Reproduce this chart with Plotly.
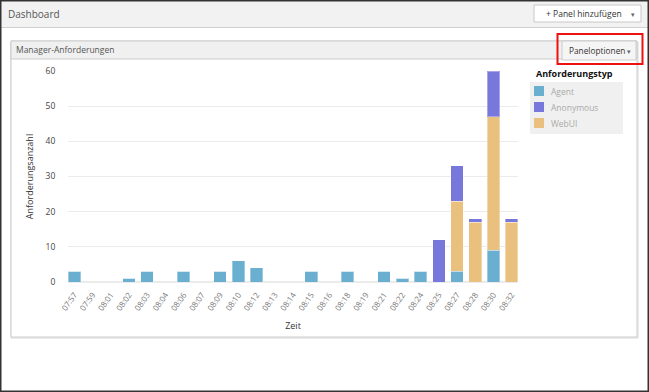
import plotly.graph_objects as go

# ---- data ----
zeit = ["07:57", "07:59", "08:01", "08:02", "08:03", "08:04", "08:06", "08:07", "08:09",
        "08:10", "08:12", "08:13", "08:14", "08:15", "08:16", "08:18", "08:19", "08:21",
        "08:22", "08:24", "08:25", "08:27", "08:28", "08:30", "08:32"]
agent = [3, 0, 0, 1, 3, 0, 3, 0, 3, 6, 4, 0, 0, 3, 0, 3, 0, 3, 1, 3, 0, 3, 0, 9, 0]
webui = [0, 0, 0, 0, 0, 0, 0, 0, 0, 0, 0, 0, 0, 0, 0, 0, 0, 0, 0, 0, 0, 20, 17, 38, 17]
anonymous = [0, 0, 0, 0, 0, 0, 0, 0, 0, 0, 0, 0, 0, 0, 0, 0, 0, 0, 0, 0, 12, 10, 1, 13, 1]
y_ticks = [0, 10, 20, 30, 40, 50, 60]
legend_names = ["Agent", "Anonymous", "WebUI"]
colors = {"Agent": "#6aaed0", "Anonymous": "#7777dc", "WebUI": "#e9c07e"}

FONT = "Open Sans, Noto Sans, sans-serif"
W, H = 649, 392
L, R, T, B = 68, 518, 71, 282


def px(x):
    return (x - L) / (R - L)


def py(y):
    return (B - y) / (B - T)


fig = go.Figure()
line = dict(color="rgba(255,255,255,0.35)", width=1)
series = {"Agent": agent, "WebUI": webui, "Anonymous": anonymous}
for name in ["Agent", "WebUI", "Anonymous"]:
    fig.add_trace(go.Bar(x=zeit, y=series[name], name=name,
                         marker=dict(color=colors[name], line=line), showlegend=False))

shapes = []
ann = []


def rect(x0, y0, x1, y1, fill="rgba(0,0,0,0)", lc="rgba(0,0,0,0)", lw=1):
    shapes.append(dict(type="rect", xref="paper", yref="paper", layer="below",
                       x0=px(x0), x1=px(x1), y0=py(y0), y1=py(y1),
                       fillcolor=fill, line=dict(color=lc, width=lw)))


def hline(x0, x1, y, c, w=1):
    shapes.append(dict(type="line", xref="paper", yref="paper", layer="below",
                       x0=px(x0), x1=px(x1), y0=py(y), y1=py(y), line=dict(color=c, width=w)))


def text(x, y, s, size=9, color="#555", xa="left", bold=False):
    ann.append(dict(xref="paper", yref="paper", x=px(x), y=py(y), text=("<b>%s</b>" % s if bold else s),
                    showarrow=False, xanchor=xa, yanchor="middle",
                    font=dict(family=FONT, size=size, color=color)))


# dashboard header
rect(1, 1, 648, 27, fill="#f2f2f2")
hline(1, 648, 27.5, "#d0d0d0")
text(6, 14, "Dashboard", size=10, color="#555")
rect(534, 5, 641, 22, fill="#ffffff", lc="#c8c8c8")
text(544, 13.5, "+ Panel hinzufügen", size=8.5, color="#333")
text(633, 14.5, "▾", size=7, color="#666", xa="center")

# panel
rect(11, 42, 638, 338, fill="rgba(0,0,0,0)", lc="#d8d8d8")
rect(11, 41, 637, 337, fill="#ffffff", lc="#cccccc")
rect(11, 41, 637, 59, fill="#f0f0f0", lc="#cccccc")
text(14, 50, "Manager-Anforderungen", size=8.5, color="#555")
rect(562, 41, 636, 60, fill="#f5f5f5", lc="#cccccc")
text(567, 50.5, "Paneloptionen", size=8.3, color="#333")
text(629, 51.5, "▾", size=7, color="#666", xa="center")
rect(557.5, 34, 642.5, 64, lc="#ee1111", lw=2)

# legend (background, title, entries)
rect(530, 82, 623, 134, fill="#f0f0f0")
text(534, 73, "Anforderungstyp", size=9, color="#111", bold=True)
for i, name in enumerate(legend_names):
    yc = 91 + 16 * i
    rect(534, yc - 5, 544, yc + 5, fill=colors[name])
    text(549, yc, name, size=8.5, color="#aaaaaa")

# outer frame
rect(0.5, 0.5, 648.5, 391.5, lc="#333333", lw=2)

fig.update_layout(
    width=W, height=H,
    margin=dict(l=L, r=W - R, t=T, b=H - B, pad=0),
    barmode="stack", bargap=0.31,
    paper_bgcolor="#ffffff", plot_bgcolor="rgba(0,0,0,0)",
    font=dict(family=FONT, size=9, color="#333"),
    shapes=shapes, annotations=ann,
    showlegend=False,
    xaxis=dict(type="category", range=[-0.346, 24.346], tickangle=-55,
               tickfont=dict(size=8, color="#777"), showgrid=False, showline=False,
               ticks="outside", ticklen=4, tickcolor="rgba(0,0,0,0)",
               title=dict(text="Zeit", font=dict(size=9, color="#333"), standoff=10)),
    yaxis=dict(range=[0, 60], tickvals=y_ticks, tickfont=dict(size=8.5, color="#444"),
               showgrid=True, gridcolor="#ebebeb", gridwidth=1, zeroline=True,
               zerolinecolor="#ebebeb", showline=False,
               ticks="outside", ticklen=10, tickcolor="rgba(0,0,0,0)",
               title=dict(text="Anforderungsanzahl", font=dict(size=9, color="#333"), standoff=10)),
)

fig.write_html("out.html", config={"displayModeBar": False},
               post_script="document.body.style.margin='0';document.body.style.overflow='hidden';")
